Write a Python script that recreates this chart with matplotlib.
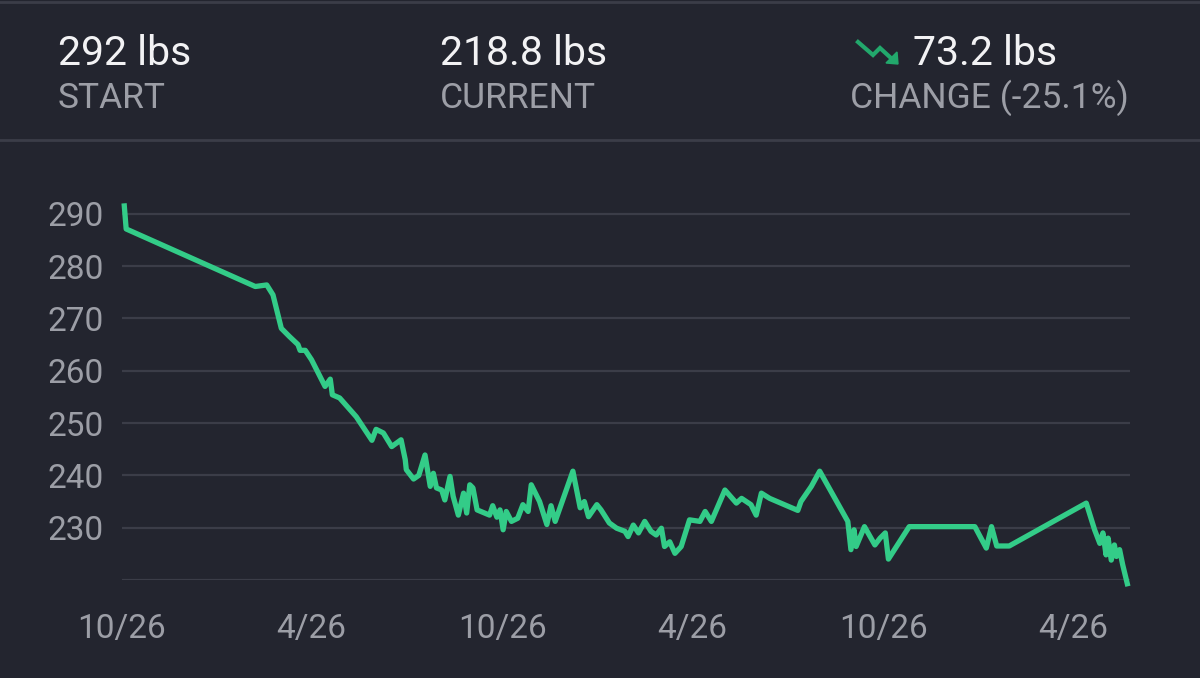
import matplotlib

matplotlib.use("Agg")

import numpy as np
import matplotlib.pyplot as plt
from matplotlib.lines import Line2D
from matplotlib.patches import Polygon

# weigh-ins, as days after 2018-10-26 and pounds
start_date = np.datetime64("2018-10-26")
days = [2, 4, 128, 139, 145, 153, 161, 169, 171, 176, 182, 195, 200, 202, 209,
        225, 240, 244, 251, 259, 268, 272, 273, 280, 285, 291, 296, 299, 302,
        307, 310, 315, 318, 323, 328, 331, 334, 337, 341, 353, 356, 360, 363,
        366, 369, 374, 380, 385, 390, 393, 401, 408, 412, 416, 433, 440, 444,
        448, 456, 460, 468, 475, 483, 486, 491, 496, 502, 508, 513, 518, 521,
        526, 531, 537, 545, 555, 560, 566, 579, 590, 595, 604, 609, 614, 622,
        649, 652, 662, 670, 697, 700, 703, 705, 713, 723, 728, 733, 736, 756,
        819, 830, 835, 840, 852, 926, 934, 939, 942, 945, 947, 950, 953, 955,
        958, 961, 966]
weights = [292.0, 287.1, 276.1, 276.4, 274.5, 268.1, 266.5, 265.0, 263.9, 263.9,
           262.1, 257.0, 258.4, 255.4, 254.8, 251.2, 246.7, 248.8, 248.1, 245.5,
           246.8, 243.0, 241.1, 239.3, 240.0, 243.9, 237.9, 240.4, 237.6, 237.2,
           235.3, 239.8, 236.0, 232.4, 236.6, 232.8, 238.2, 237.6, 233.4, 232.4,
           234.2, 232.0, 233.4, 229.6, 233.1, 231.2, 231.8, 234.4, 233.1, 238.2,
           235.0, 230.6, 234.2, 231.2, 240.8, 233.8, 235.0, 232.1, 234.4, 233.4,
           230.9, 229.9, 229.3, 228.3, 230.5, 229.0, 231.2, 229.3, 228.6, 229.9,
           226.4, 227.3, 225.1, 226.4, 231.5, 231.2, 233.1, 231.2, 237.2, 234.7,
           235.6, 234.4, 232.4, 236.6, 235.6, 233.3, 235.0, 237.9, 240.8, 231.2,
           225.8, 229.6, 226.4, 230.2, 226.7, 228.0, 229.0, 224.0, 230.2, 230.2,
           226.1, 230.2, 226.5, 226.5, 234.7, 229.6, 227.0, 229.0, 224.8, 228.0,
           223.8, 226.7, 224.5, 225.8, 222.9, 218.8]

tick_dates = ["2018-10-26", "2019-04-26", "2019-10-26", "2020-04-26",
              "2020-10-26", "2021-04-26"]
tick_labels = ["10/26", "4/26", "10/26", "4/26", "10/26", "4/26"]
y_ticks = [220, 230, 240, 250, 260, 270, 280, 290]

header_values = ["292 lbs", "218.8 lbs", "73.2 lbs"]
header_names = ["START", "CURRENT", "CHANGE (-25.1%)"]

bg = "#23252f"
green = "#33cc88"
grid_c = "#3b3d48"
label_c = "#9c9ea6"

plt.rcParams["font.family"] = ["Roboto", "DejaVu Sans"]

fig = plt.figure(figsize=(12, 6.78), dpi=100, facecolor=bg)
ax = fig.add_axes([122 / 1200, 1 - 580 / 678, 1008 / 1200, 384 / 678])
ax.set_facecolor(bg)

x = start_date + np.array(days).astype("timedelta64[D]")
ax.plot(x, weights, color=green, lw=3.8, solid_joinstyle="round",
        solid_capstyle="butt", clip_on=False, zorder=3)

ax.set_xlim(start_date, start_date + np.timedelta64(968, "D"))
ax.set_ylim(220, 293.4)
ax.set_yticks(y_ticks)
ax.set_yticklabels(["" if v == 220 else str(v) for v in y_ticks])
ax.set_xticks(np.array(tick_dates, dtype="datetime64[D]"))
ax.set_xticklabels(tick_labels)
ax.grid(axis="y", color=grid_c, lw=1.6)
ax.tick_params(length=0, colors=label_c, labelsize=24)
ax.tick_params(axis="y", pad=13)
ax.tick_params(axis="x", pad=24)
for s in ax.spines.values():
    s.set_visible(False)

# header
fig.add_artist(Line2D([0, 1], [1 - 2 / 678, 1 - 2 / 678], color=grid_c, lw=2))
fig.add_artist(Line2D([0, 1], [1 - 140 / 678, 1 - 140 / 678], color=grid_c, lw=2))

value_x = [58, 440, 913]
name_x = [58, 440, 850]
for i in range(3):
    fig.text(value_x[i] / 1200, 1 - 65 / 678, header_values[i], color="#f2f2f4",
             fontsize=29.5, va="baseline", ha="left")
    fig.text(name_x[i] / 1200, 1 - 108 / 678, header_names[i], color=label_c,
             fontsize=25.5, va="baseline", ha="left")

# trending-down icon
icon_x = [858, 873, 880, 892]
icon_y = [42, 55, 48, 59]
fig.add_artist(Line2D([v / 1200 for v in icon_x], [1 - v / 678 for v in icon_y],
                      color="#22a86c", lw=3, solid_joinstyle="miter"))
fig.add_artist(Polygon([(898 / 1200, 1 - 64 / 678), (886 / 1200, 1 - 63 / 678),
                        (897 / 1200, 1 - 52 / 678)], closed=True,
                       transform=fig.transFigure, color="#22a86c"))

fig.savefig("out.png", facecolor=bg)
plt.close()
